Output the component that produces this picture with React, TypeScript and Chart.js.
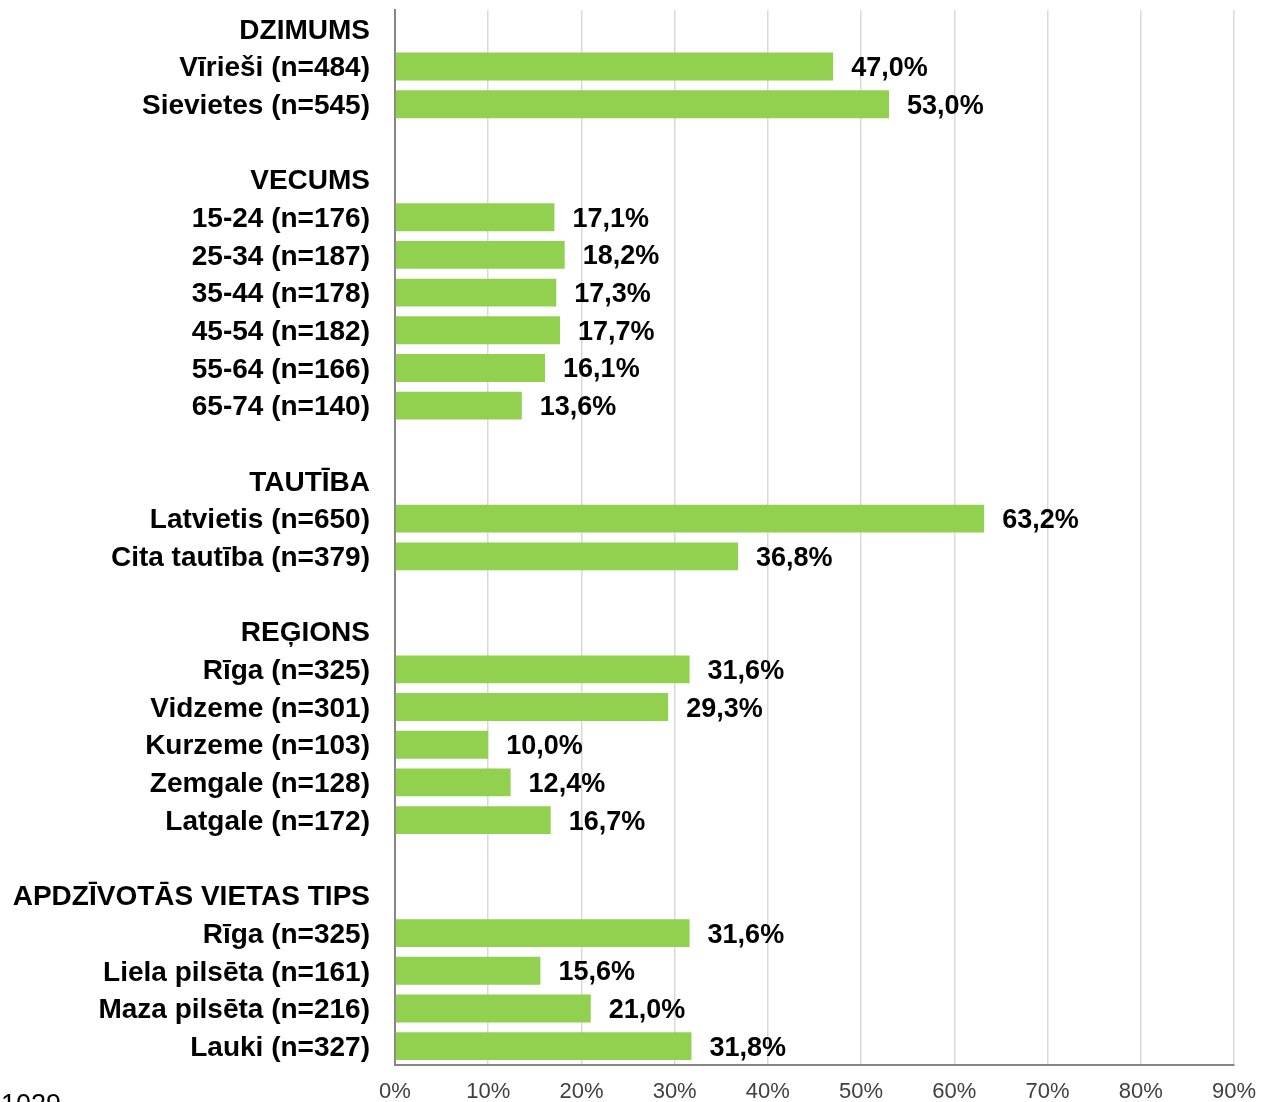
import React, { useEffect, useRef } from "react";
import { Chart, registerables } from "chart.js";

Chart.register(...registerables);

const CATEGORIES: string[] = [
  "DZIMUMS",
  "Vīrieši (n=484)",
  "Sievietes (n=545)",
  "",
  "VECUMS",
  "15-24 (n=176)",
  "25-34 (n=187)",
  "35-44 (n=178)",
  "45-54 (n=182)",
  "55-64 (n=166)",
  "65-74 (n=140)",
  "",
  "TAUTĪBA",
  "Latvietis (n=650)",
  "Cita tautība (n=379)",
  "",
  "REĢIONS",
  "Rīga (n=325)",
  "Vidzeme (n=301)",
  "Kurzeme (n=103)",
  "Zemgale (n=128)",
  "Latgale (n=172)",
  "",
  "APDZĪVOTĀS VIETAS TIPS",
  "Rīga (n=325)",
  "Liela pilsēta (n=161)",
  "Maza pilsēta (n=216)",
  "Lauki (n=327)",
];

const VALUES: (number | null)[] = [
  null, 47.0, 53.0, null,
  null, 17.1, 18.2, 17.3, 17.7, 16.1, 13.6, null,
  null, 63.2, 36.8, null,
  null, 31.6, 29.3, 10.0, 12.4, 16.7, null,
  null, 31.6, 15.6, 21.0, 31.8,
];

const X_MIN = 0;
const X_MAX = 90;
const X_STEP = 10;
const FOOT_NOTE = "1029";

const FONT = "'Liberation Sans', Arial, sans-serif";

const fmt = (v: number) => v.toFixed(1).replace(".", ",") + "%";

const valueLabels = {
  id: "valueLabels",
  afterDatasetsDraw(chart: any) {
    const ctx = chart.ctx;
    const meta = chart.getDatasetMeta(0);
    ctx.save();
    ctx.font = `bold 27px ${FONT}`;
    ctx.fillStyle = "#000000";
    ctx.textAlign = "left";
    ctx.textBaseline = "middle";
    meta.data.forEach((el: any, i: number) => {
      const v = VALUES[i];
      if (v === null || v === undefined) return;
      ctx.fillText(fmt(v), el.x + 18, el.y + 2);
    });
    ctx.font = `27px ${FONT}`;
    ctx.textAlign = "left";
    ctx.textBaseline = "top";
    ctx.fillText(FOOT_NOTE, 1, 1092);
    ctx.restore();
  },
};

export default function App() {
  const ref = useRef<HTMLCanvasElement | null>(null);
  useEffect(() => {
    document.body.style.margin = "0";
    if (!ref.current) return;
    const chart = new Chart(ref.current, {
      type: "bar",
      data: {
        labels: CATEGORIES,
        datasets: [
          {
            data: VALUES as any,
            backgroundColor: "#92d050",
            borderWidth: 0,
            barPercentage: 0.74,
            categoryPercentage: 1,
          },
        ],
      },
      options: {
        indexAxis: "y",
        responsive: false,
        animation: false,
        layout: { padding: { top: 10, right: 27, left: 0, bottom: 0 } },
        plugins: {
          legend: { display: false },
          tooltip: { enabled: false },
        },
        scales: {
          x: {
            min: X_MIN,
            max: X_MAX,
            ticks: {
              stepSize: X_STEP,
              callback: (v: any) => v + "%",
              font: { family: FONT, size: 22 },
              color: "#404040",
              padding: 14,
              maxRotation: 0,
            },
            grid: { color: "#d9d9d9", lineWidth: 1.5, drawTicks: false },
            border: { color: "#868686", width: 2 },
            afterFit: (s: any) => {
              s.height = 37;
              s.paddingLeft = 0;
              s.paddingRight = 0;
            },
          },
          y: {
            ticks: {
              autoSkip: false,
              font: { family: FONT, size: 28, weight: "bold" },
              color: "#000000",
              padding: 25,
              labelOffset: 2,
            },
            grid: { display: false, drawTicks: false },
            border: { color: "#868686", width: 2 },
            afterFit: (s: any) => {
              s.width = 395;
              s.paddingTop = 0;
              s.paddingBottom = 0;
            },
          },
        },
      },
      plugins: [valueLabels],
    } as any);
    return () => chart.destroy();
  }, []);
  return (
    <canvas
      ref={ref}
      width={1261}
      height={1102}
      style={{ display: "block", width: 1261, height: 1102 }}
    />
  );
}
